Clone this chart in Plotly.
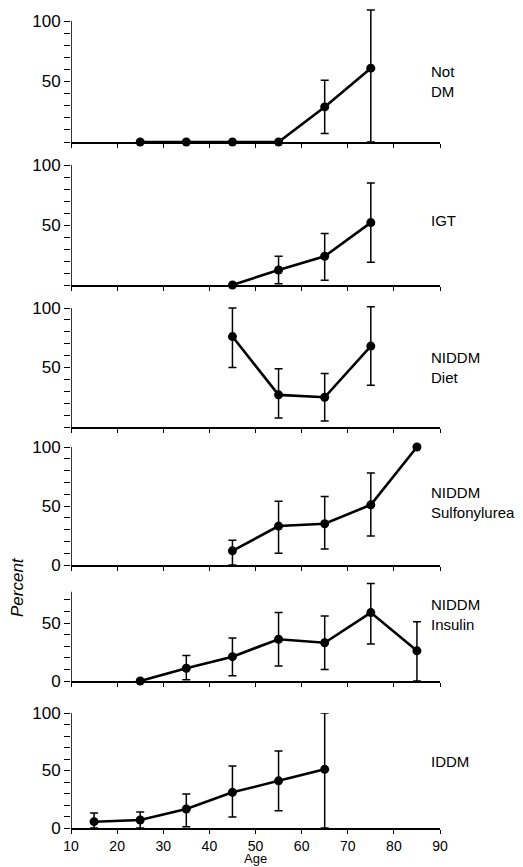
import plotly.graph_objects as go

# ---------------- data ----------------
panel_names = ["Not<br>DM", "IGT", "NIDDM<br>Diet", "NIDDM<br>Sulfonylurea", "NIDDM<br>Insulin", "IDDM"]

ages_notdm = [25, 35, 45, 55, 65, 75]
pct_notdm = [0, 0, 0, 0, 29, 61]
hi_notdm = [0, 0, 0, 0, 51, 109]
lo_notdm = [0, 0, 0, 0, 7, 0]

ages_igt = [45, 55, 65, 75]
pct_igt = [0, 12.5, 24, 52]
hi_igt = [0, 24, 43, 85]
lo_igt = [0, 1, 4, 19]

ages_diet = [45, 55, 65, 75]
pct_diet = [76, 27, 25, 68]
hi_diet = [100, 49, 45, 101]
lo_diet = [50, 7.5, 5, 35]

ages_sulf = [45, 55, 65, 75, 85]
pct_sulf = [12, 33, 35, 51, 100]
hi_sulf = [21, 54, 58, 78, 100]
lo_sulf = [0, 10, 13.5, 24.5, 100]

ages_ins = [25, 35, 45, 55, 65, 75, 85]
pct_ins = [0, 11, 21, 36, 33, 59, 26]
hi_ins = [0, 22, 37, 59, 56, 84, 51]
lo_ins = [0, 1, 4.5, 13, 10, 32, 0]

ages_iddm = [15, 25, 35, 45, 55, 65]
pct_iddm = [5.5, 7, 16.5, 31, 41, 51]
hi_iddm = [13, 14, 29.5, 54, 67, 100]
lo_iddm = [0, 0, 1, 9.5, 15, 0]

x_ticks = [10, 20, 30, 40, 50, 60, 70, 80, 90]
x_label = "Age"
y_label = "Percent"

series = [
    (ages_notdm, pct_notdm, hi_notdm, lo_notdm),
    (ages_igt, pct_igt, hi_igt, lo_igt),
    (ages_diet, pct_diet, hi_diet, lo_diet),
    (ages_sulf, pct_sulf, hi_sulf, lo_sulf),
    (ages_ins, pct_ins, hi_ins, lo_ins),
    (ages_iddm, pct_iddm, hi_iddm, lo_iddm),
]

# ---------------- layout geometry ----------------
OFF = 8  # page body margin
W, H = 523 - OFF, 867 - OFF
ML, MR, MT, MB = 71 - OFF, 83, 0, 39
PH = H - MT - MB
PW = W - ML - MR

# zero pixel (page), px per unit, range max, axis-line top, labelled ticks, label y
geom = [
    (142, 1.21, 110, 100, [50, 100], 50),
    (285, 1.20, 100, 100, [50, 100], 54),
    (427, 1.19, 103, 100, [50, 100], 50),
    (565, 1.18, 103, 100, [0, 50, 100], 53),
    (681, 1.16, 86, 77, [0, 50], 57),
    (828, 1.15, 100, 100, [0, 50, 100], 58),
]

FONT = "Liberation Sans"
fig = go.Figure()
layout = dict(
    width=W, height=H,
    margin=dict(l=ML, r=MR, t=MT, b=MB, pad=0, autoexpand=False),
    paper_bgcolor="white", plot_bgcolor="white",
    showlegend=False,
    font=dict(family=FONT, size=17, color="black"),
)
shapes = []
annotations = []


def frac_y(page_px):
    return (PH - (page_px - OFF - MT)) / PH


for i, ((ax, ay, ahi, alo), (p0, s, ymax, ytop, labelled, laby)) in enumerate(zip(series, geom)):
    n = i + 1
    xa = "x" if n == 1 else f"x{n}"
    ya = "y" if n == 1 else f"y{n}"
    plus = [(h - v) if h != v else None for h, v in zip(ahi, ay)]
    minus = [(v - l) if l != v else None for l, v in zip(alo, ay)]
    fig.add_trace(go.Scatter(
        x=ax, y=ay, xaxis=xa, yaxis=ya, mode="lines+markers",
        line=dict(color="black", width=2.6),
        marker=dict(color="black", size=9),
        cliponaxis=False,
        error_y=dict(type="data", symmetric=False, array=plus, arrayminus=minus,
                     color="black", thickness=1.5, width=4),
    ))
    top_px = p0 - ymax * s
    dom = [frac_y(p0), min(1.0, frac_y(top_px))]
    tv = list(range(0, int(ytop) + 1, 10))
    tt = [str(v) if v in labelled else "" for v in tv]
    layout["yaxis" if n == 1 else f"yaxis{n}"] = dict(
        domain=dom, range=[0, ymax], anchor=xa, showgrid=False, zeroline=False,
        showline=False, ticks="outside", ticklen=6, tickwidth=1.3, tickcolor="black",
        tickmode="array", tickvals=tv, ticktext=tt, automargin=False,
        tickfont=dict(family=FONT, size=17),
    )
    layout["xaxis" if n == 1 else f"xaxis{n}"] = dict(
        domain=[0, 1], range=[10, 90], anchor=ya, showgrid=False, zeroline=False,
        showline=True, linecolor="black", linewidth=1.6,
        ticks="outside", ticklen=4, tickwidth=1.3, tickcolor="black",
        tickmode="array", tickvals=x_ticks, showticklabels=(n == 6),
        automargin=False,
        tickfont=dict(family=FONT, size=14),
    )
    shapes.append(dict(type="line", xref=xa, yref=ya, x0=10, x1=10, y0=0, y1=ytop,
                       line=dict(color="black", width=1.6)))
    annotations.append(dict(text=panel_names[i], xref=xa, yref=ya, x=87.7, y=laby,
                            xanchor="left", yanchor="middle", align="left",
                            showarrow=False, font=dict(family=FONT, size=15)))

annotations.append(dict(text=x_label, xref="paper", yref="paper", x=0.5,
                        y=frac_y(867), xanchor="center", yanchor="bottom",
                        borderpad=0, showarrow=False, font=dict(family=FONT, size=13)))
annotations.append(dict(text=f"<i>{y_label}</i>", xref="paper", yref="paper",
                        x=-(71 - 17) / PW, y=frac_y(587),
                        xanchor="center", yanchor="middle", textangle=-90,
                        showarrow=False, font=dict(family=FONT, size=17)))

layout["shapes"] = shapes
layout["annotations"] = annotations
fig.update_layout(**layout)
fig.write_html("out.html")
